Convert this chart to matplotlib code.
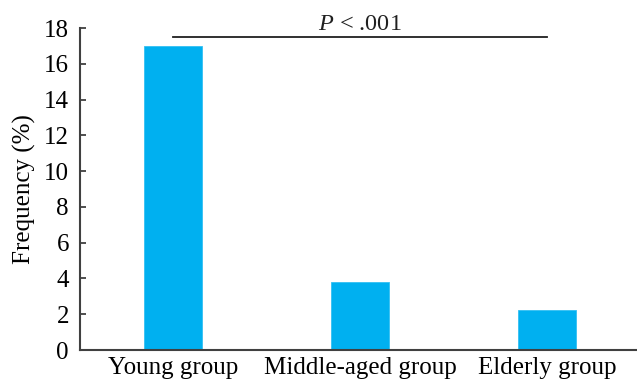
import numpy as np
import matplotlib
matplotlib.use("Agg")
import matplotlib.pyplot as plt

plt.rcParams['font.family'] = ['Liberation Serif', 'DejaVu Serif']
plt.rcParams['mathtext.fontset'] = 'custom'
plt.rcParams['mathtext.rm'] = 'Liberation Serif'
plt.rcParams['mathtext.it'] = 'Liberation Serif:italic'

groups = ["Young group", "Middle-aged group", "Elderly group"]
frequency = [17.0, 3.8, 2.25]
y_ticks = [0, 2, 4, 6, 8, 10, 12, 14, 16, 18]
sig_label = r"$\it{P}$ < .001"
sig_level = 17.5

bar_color = "#00b0f0"
axis_color = "#404040"

fig = plt.figure(figsize=(6.37, 3.84), dpi=100)
ax = fig.add_axes([0.1256, 0.0885, 0.8744, 0.8385])

x = np.arange(len(groups))
ax.bar(x, frequency, width=0.31, color=bar_color, edgecolor="#33c0f3", linewidth=0.6)

# significance bracket between first and last group
ax.plot([x[0], x[-1]], [sig_level, sig_level], color="#202020", lw=1.3, clip_on=False)
ax.text(x[1], sig_level + 0.12, sig_label, ha="center", va="bottom", fontsize=17.5, color="#202020")

ax.set_xlim(-0.495, 2.48)
ax.set_ylim(0, 18)
ax.set_xticks(x)
ax.set_xticklabels(groups, fontsize=18)
ax.set_yticks(y_ticks)
ax.tick_params(axis="y", direction="in", labelsize=18, length=4, width=1.3, color=axis_color, pad=8)
ax.tick_params(axis="x", length=0, pad=5, labelsize=18)
ax.set_ylabel("Frequency (%)", fontsize=18, labelpad=6)

for side in ["top", "right"]:
    ax.spines[side].set_visible(False)
for side in ["left", "bottom"]:
    ax.spines[side].set_color(axis_color)
    ax.spines[side].set_linewidth(1.5)

fig.savefig("out.png", dpi=100)
